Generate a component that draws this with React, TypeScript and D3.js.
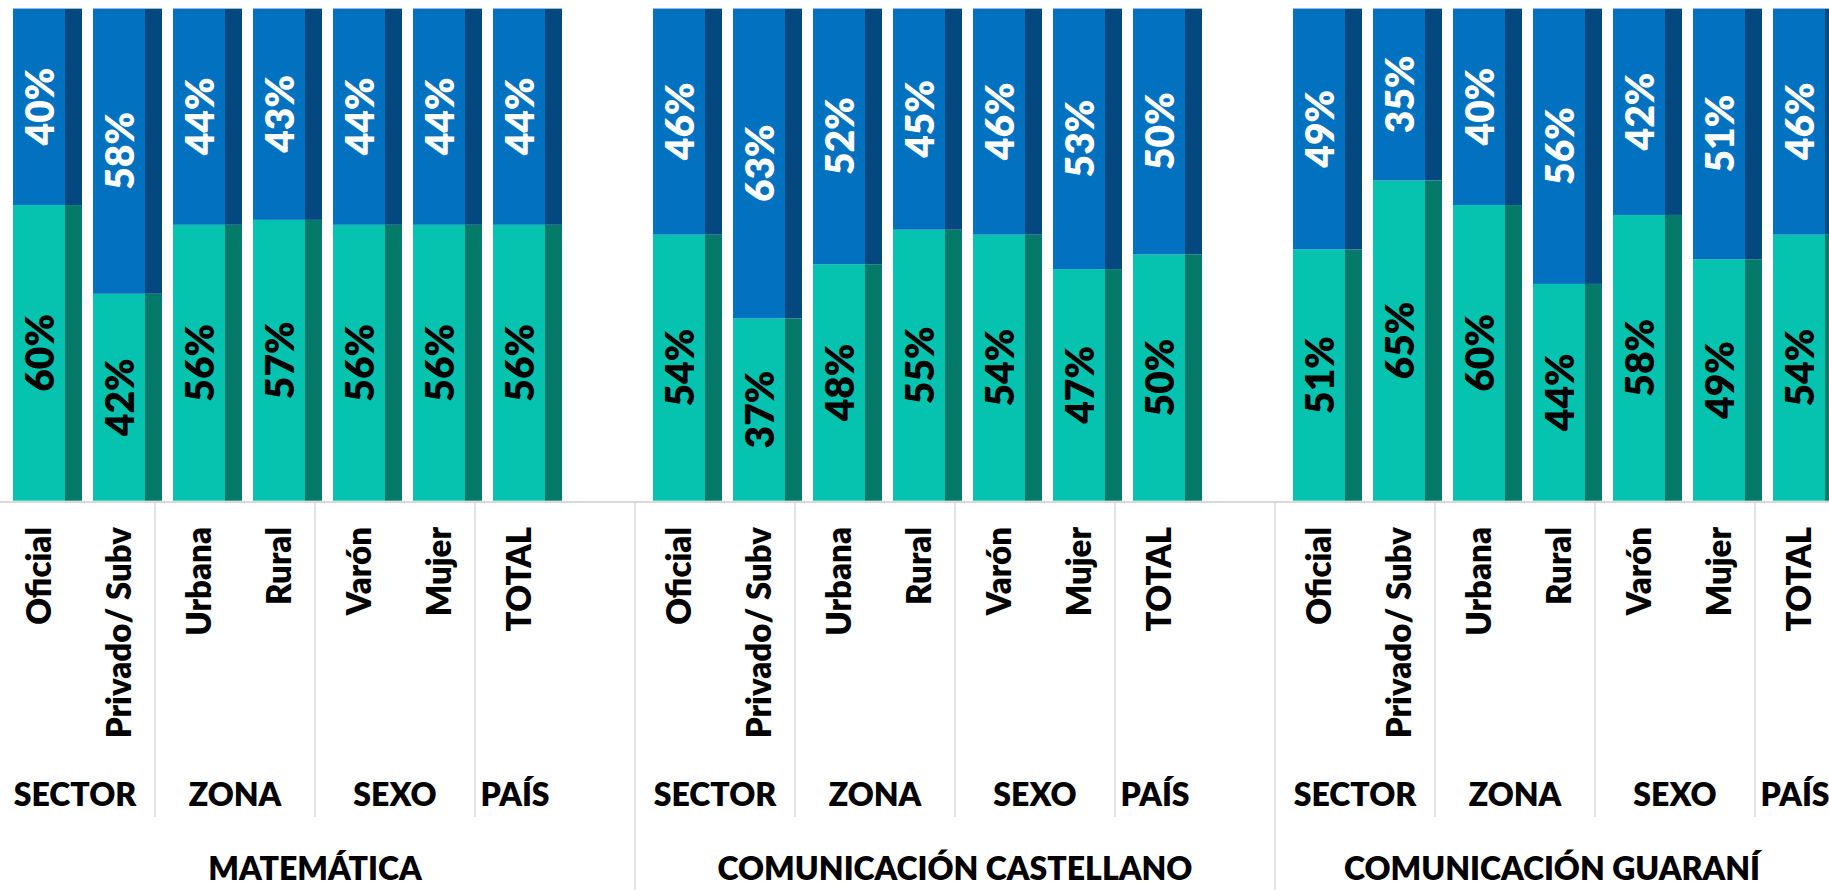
import React, { useEffect } from "react";
import * as d3 from "d3";

// ---- data ----
const subjects = ["MATEMÁTICA", "COMUNICACIÓN CASTELLANO", "COMUNICACIÓN GUARANÍ"];
const groupLabels = ["SECTOR", "ZONA", "SEXO", "PAÍS"];
const groupSizes = [2, 2, 2, 1];
const categories = ["Oficial", "Privado/ Subv", "Urbana", "Rural", "Varón", "Mujer", "TOTAL"];

const greenMat = [60, 42, 56, 57, 56, 56, 56];
const blueMat = [40, 58, 44, 43, 44, 44, 44];
const greenCas = [54, 37, 48, 55, 54, 47, 50];
const blueCas = [46, 63, 52, 45, 46, 53, 50];
const greenGua = [51, 65, 60, 44, 58, 49, 54];
const blueGua = [49, 35, 40, 56, 42, 51, 46];

const greenSeries = [greenMat, greenCas, greenGua];
const blueSeries = [blueMat, blueCas, blueGua];

// ---- layout ----
const W = 1829;
const H = 890;
const SLOTS_PER_SUBJECT = categories.length + 1; // one blank slot after each subject
const TOTAL_SLOTS = subjects.length * SLOTS_PER_SUBJECT;
const SLOT_W = 80;
const X0 = -5;
const FRONT_OFFSET = 18;
const FRONT_W = 52;
const SIDE_W = 17;
const BASE_Y = 500.7;
const TOP_Y = 8;
const AXIS_Y = 502;

const GREEN = "#05C3AE";
const GREEN_SIDE = "#037A6A";
const BLUE = "#0271C0";
const BLUE_SIDE = "#034980";
const GRID = "#D9D9D9";
const FONT = "Lato, 'Open Sans', sans-serif";
const WEIGHT = 800;

export default function App() {
  useEffect(() => {
    document.body.style.margin = "0";
    document.body.style.overflow = "hidden";
  }, []);

  const slotIds = d3.range(TOTAL_SLOTS);
  const x = d3
    .scaleBand<number>()
    .domain(slotIds)
    .range([X0, X0 + TOTAL_SLOTS * SLOT_W])
    .padding(0);
  const y = d3.scaleLinear().domain([0, 100]).range([BASE_Y, TOP_Y]);

  const bars: any[] = [];
  subjects.forEach((_, s) => {
    categories.forEach((cat, c) => {
      const slot = s * SLOTS_PER_SUBJECT + c;
      bars.push({
        key: `${s}-${c}`,
        cat,
        slot,
        green: greenSeries[s][c],
        blue: blueSeries[s][c],
      });
    });
  });

  const pctSize = 39;
  const pctCap = pctSize * 0.72;
  const catSize = 33;
  const catCap = catSize * 0.72;

  const elements: React.ReactNode[] = [];

  // bars
  bars.forEach((b) => {
    const fx = (x(b.slot) as number) + FRONT_OFFSET;
    const yTop = y(100);
    const yMid = y(b.green);
    const yBot = y(0);
    elements.push(
      <g key={"bar" + b.key}>
        <rect x={fx} y={yMid} width={FRONT_W} height={yBot - yMid} fill={GREEN} />
        <rect x={fx + FRONT_W} y={yMid} width={SIDE_W} height={yBot - yMid} fill={GREEN_SIDE} />
        <rect x={fx} y={yTop} width={FRONT_W} height={yMid - yTop} fill={BLUE} />
        <rect x={fx + FRONT_W} y={yTop} width={SIDE_W} height={yMid - yTop} fill={BLUE_SIDE} />
        <line x1={fx} x2={fx + FRONT_W + SIDE_W} y1={yTop + 0.5} y2={yTop + 0.5} stroke="#9DB9D6" strokeWidth={1} />
      </g>
    );
    const cx = fx + FRONT_W / 2 + 1;
    const gMid = (yMid + yBot) / 2;
    const bMid = (yTop + yMid) / 2;
    elements.push(
      <text
        key={"gl" + b.key}
        transform={`translate(${cx + pctCap / 2},${gMid}) rotate(-90)`}
        textAnchor="middle"
        fontFamily={FONT}
        fontWeight={WEIGHT}
        fontSize={pctSize}
        fill="#000"
      >
        {`${b.green}%`}
      </text>
    );
    elements.push(
      <text
        key={"bl" + b.key}
        transform={`translate(${cx + pctCap / 2},${bMid}) rotate(-90)`}
        textAnchor="middle"
        fontFamily={FONT}
        fontWeight={WEIGHT}
        fontSize={pctSize}
        fill="#fff"
      >
        {`${b.blue}%`}
      </text>
    );
    // category label
    elements.push(
      <text
        key={"cl" + b.key}
        transform={`translate(${fx + FRONT_W / 2 + catCap / 2},527) rotate(-90)`}
        textAnchor="end"
        fontFamily={FONT}
        fontWeight={WEIGHT}
        fontSize={catSize}
        fill="#000"
      >
        {b.cat}
      </text>
    );
  });

  // axis line
  elements.push(
    <line key="axis" x1={0} x2={W} y1={AXIS_Y} y2={AXIS_Y} stroke={GRID} strokeWidth={2} />
  );

  // group labels and separators
  subjects.forEach((subj, s) => {
    let start = s * SLOTS_PER_SUBJECT;
    groupLabels.forEach((gl, g) => {
      const x1 = x(start) as number;
      const x2 = (x(start + groupSizes[g] - 1) as number) + SLOT_W;
      elements.push(
        <text
          key={`g${s}-${g}`}
          x={(x1 + x2) / 2}
          y={806}
          textAnchor="middle"
          fontFamily={FONT}
          fontWeight={WEIGHT}
          fontSize={32}
          fill="#000"
        >
          {gl}
        </text>
      );
      if (g > 0) {
        elements.push(
          <line key={`gs${s}-${g}`} x1={x1} x2={x1} y1={AXIS_Y} y2={817} stroke={GRID} strokeWidth={1.5} />
        );
      }
      start += groupSizes[g];
    });
    const sx1 = x(s * SLOTS_PER_SUBJECT) as number;
    const sx2 = Math.min(sx1 + SLOTS_PER_SUBJECT * SLOT_W, W);
    elements.push(
      <text
        key={`s${s}`}
        x={(sx1 + sx2) / 2}
        y={880}
        textAnchor="middle"
        fontFamily={FONT}
        fontWeight={WEIGHT}
        fontSize={32}
        fill="#000"
      >
        {subj}
      </text>
    );
    if (s > 0) {
      elements.push(
        <line key={`ss${s}`} x1={sx1} x2={sx1} y1={AXIS_Y} y2={H} stroke={GRID} strokeWidth={1.5} />
      );
    }
  });

  return (
    <svg
      width={W}
      height={H}
      viewBox={`0 0 ${W} ${H}`}
      style={{ position: "absolute", left: 0, top: 0, background: "#fff", display: "block" }}
    >
      <rect x={0} y={0} width={W} height={H} fill="#fff" />
      {elements}
    </svg>
  );
}
